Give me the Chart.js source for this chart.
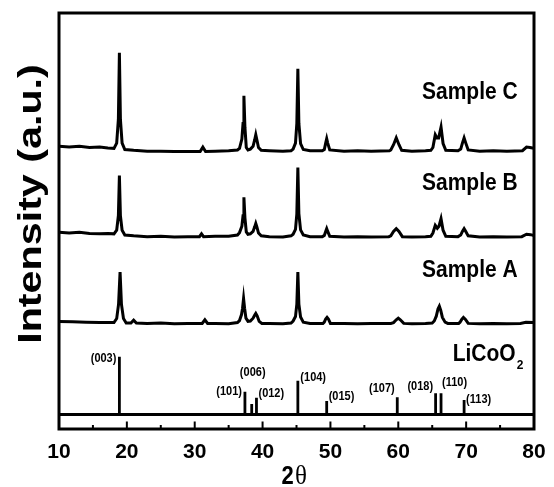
<!DOCTYPE html>
<html><head><meta charset="utf-8">
<script src="https://cdn.jsdelivr.net/npm/chart.js@4"></script>
<style>html,body{margin:0;padding:0;background:#fff;}canvas{display:block;}</style>
</head><body>
<canvas id="c" width="554" height="487"></canvas>
<script>
// ---------- data ----------
const xTickValues = [10, 20, 30, 40, 50, 60, 70, 80];
const xTitleMain = '2';
const xTitleSymbol = 'θ';
const yTitle = 'Intensity (a.u.)';
const sampleNames = ['Sample A', 'Sample B', 'Sample C'];

const sampleA = [[10,23.2],[12,23.1],[14,23.0],[16,22.9],[18.1,22.9],[18.5,23.9],[18.78,27.5],[19.0,35.5],[19.2,27.5],[19.5,23.9],[19.9,22.8],[20.6,22.8],[21.0,23.5],[21.4,22.8],[23,22.7],[25,22.8],[27,22.6],[29,22.7],[31.1,22.7],[31.5,23.6],[31.9,22.7],[33,22.7],[35,22.6],[36.3,22.9],[36.6,23.4],[36.9,24.9],[37.05,26.5],[37.2,28.9],[37.35,26.5],[37.55,24.0],[37.85,23.2],[38.2,23.3],[38.6,24.0],[38.85,24.8],[39.0,25.2],[39.2,24.6],[39.5,23.2],[39.9,22.7],[41,22.7],[43,22.6],[44.2,22.8],[44.5,23.3],[44.85,24.4],[45.05,27.5],[45.2,35.5],[45.35,27.5],[45.6,24.3],[46.0,23.0],[47,22.7],[48.9,22.7],[49.1,23.0],[49.3,23.8],[49.5,24.2],[49.7,23.8],[50.0,22.7],[52,22.7],[54,22.6],[56,22.7],[58.9,22.7],[59.3,22.9],[59.7,23.6],[60.0,24.0],[60.3,23.6],[60.8,22.7],[62,22.6],[64,22.7],[65.0,22.8],[65.3,23.3],[65.6,24.5],[65.85,26.3],[66.05,27.0],[66.25,26.0],[66.5,24.2],[66.9,23.0],[67.3,22.7],[68.9,22.7],[69.1,23.0],[69.35,23.7],[69.6,24.2],[69.9,23.7],[70.3,22.7],[72,22.6],[74,22.7],[76,22.6],[78,22.7],[78.8,23.0],[80,22.9]];

const sampleB = [[10,45.4],[11.5,45.2],[13,45.4],[14.5,45.1],[16,45.0],[17.2,45.1],[18.1,45.0],[18.5,45.9],[18.75,49.5],[18.9,59.5],[19.05,49.5],[19.3,45.9],[19.7,44.7],[21,44.5],[23,44.3],[25,44.4],[27,44.2],[29,44.3],[30.7,44.3],[31.0,45.0],[31.3,44.3],[33,44.4],[35,44.4],[36.3,44.7],[36.6,45.3],[36.95,46.9],[37.12,49.5],[37.25,54.1],[37.4,49.0],[37.6,45.5],[37.85,44.9],[38.2,45.0],[38.6,45.6],[38.85,46.8],[39.0,47.6],[39.15,46.8],[39.4,45.2],[39.8,44.5],[41,44.3],[43,44.2],[44.2,44.5],[44.5,44.9],[44.85,46.1],[45.05,50.0],[45.2,61.5],[45.35,50.0],[45.6,46.0],[46.0,44.7],[47,44.3],[48.8,44.3],[49.1,44.6],[49.3,45.6],[49.45,46.3],[49.6,45.6],[49.9,44.4],[52,44.2],[54,44.3],[56,44.2],[58.6,44.3],[58.9,44.5],[59.3,45.6],[59.7,46.3],[60.1,45.6],[60.6,44.3],[62,44.2],[64,44.3],[64.8,44.4],[65.1,45.2],[65.45,47.1],[65.75,46.4],[66.0,46.9],[66.3,48.8],[66.6,45.9],[67.0,44.4],[68.8,44.3],[69.2,44.7],[69.45,45.6],[69.7,46.3],[69.95,45.6],[70.3,44.5],[72,44.2],[74,44.3],[76,44.2],[78.2,44.3],[78.9,44.9],[79.5,44.8],[80,44.6]];

const sampleC = [[10,66.8],[11.5,66.6],[13,66.8],[14.5,66.5],[16,66.6],[17.2,66.4],[18.1,66.3],[18.5,67.6],[18.75,73.5],[18.9,90.1],[19.05,73.5],[19.3,67.6],[19.7,66.0],[21,65.8],[23,65.6],[25,65.6],[27,65.5],[29,65.5],[30.8,65.5],[31.2,66.6],[31.6,65.5],[33,65.6],[35,65.7],[36.3,65.9],[36.6,66.3],[36.95,68.6],[37.12,72.5],[37.25,79.4],[37.4,71.5],[37.6,66.5],[37.85,65.9],[38.2,66.1],[38.6,66.8],[38.85,68.5],[39.0,69.7],[39.15,68.5],[39.4,66.5],[39.8,65.8],[41,65.7],[43,65.6],[44.2,65.7],[44.5,66.1],[44.85,67.6],[45.05,72.5],[45.2,86.1],[45.35,72.5],[45.6,67.5],[46.0,66.0],[47,65.7],[48.8,65.7],[49.1,66.0],[49.3,67.6],[49.45,68.7],[49.6,67.6],[49.9,65.9],[52,65.6],[54,65.7],[56,65.6],[58.7,65.7],[58.9,65.9],[59.3,67.2],[59.7,68.9],[60.1,67.2],[60.5,65.8],[62,65.6],[64,65.7],[64.8,65.8],[65.1,66.5],[65.45,69.7],[65.7,68.9],[65.95,68.9],[66.3,71.6],[66.6,67.5],[67.0,65.8],[68.8,65.7],[69.2,66.1],[69.45,67.6],[69.7,68.9],[69.95,67.6],[70.3,65.9],[72,65.6],[74,65.7],[76,65.6],[78.3,65.7],[78.9,66.6],[79.4,66.5],[80,66.3]];

const refName = 'LiCoO';
const refNameSub = '2';
const refPositions   = [18.9, 37.4, 38.4, 39.1, 45.2, 49.45, 59.85, 65.5, 66.3, 69.7];
const refIntensities = [14.4, 5.7, 2.6, 4.2, 8.4, 3.4, 4.3, 5.3, 5.3, 3.6];
const refLabels = ['(003)','(101)','(006)','(012)','(104)','(015)','(107)','(018)','(110)','(113)'];

// ---------- layout / style (not data) ----------
const SY = 1.13; // vertical text stretch of the original figure
const labelPlacement = [ // align, dx(px), dy(px) relative to stick top
  ['right',-3,1.5],['right',-3,0],['center',1,-31.5],['left',2,-3.7],['left',2.5,-3.2],
  ['left',2,-4.7],['right',-2.5,-8.3],['right',-2.5,-7],['left',1,-10.3],['left',2,-1]
];
const sampleLabelAt = { x: 77.6, y: [34.25, 55.9, 78.6] };
const refLabelAt = { x: 77.3, y: 13.4 };

const toXY = arr => arr.map(p => ({ x: p[0], y: p[1] }));
const stickData = [];
refPositions.forEach((p, i) => {
  stickData.push({ x: p, y: 0 }, { x: p, y: refIntensities[i] }, { x: p, y: null });
});

function stretchText(ctx, text, x, y, font, align, baseline) {
  ctx.save();
  ctx.translate(x, y);
  ctx.scale(1, SY);
  ctx.font = font;
  ctx.textAlign = align;
  ctx.textBaseline = baseline;
  ctx.fillText(text, 0, 0);
  ctx.restore();
}

const decor = {
  id: 'decor',
  afterDatasetsDraw(chart) {
    const { ctx, chartArea: a, scales } = chart;
    const xs = scales.x, ys = scales.y;
    ctx.save();
    ctx.strokeStyle = '#000';
    ctx.fillStyle = '#000';
    // frame
    ctx.lineWidth = 3;
    ctx.strokeRect(a.left, a.top, a.right - a.left, a.bottom - a.top);
    // inward ticks
    ctx.lineWidth = 2;
    xTickValues.forEach((t, i) => {
      const px = xs.getPixelForValue(t);
      ctx.beginPath(); ctx.moveTo(px, a.bottom); ctx.lineTo(px, a.bottom - 7.5); ctx.stroke();
      if (i < xTickValues.length - 1) {
        const mx = xs.getPixelForValue((t + xTickValues[i + 1]) / 2);
        ctx.beginPath(); ctx.moveTo(mx, a.bottom); ctx.lineTo(mx, a.bottom - 4); ctx.stroke();
      }
    });
    // hkl labels
    refLabels.forEach((lab, i) => {
      const px = xs.getPixelForValue(refPositions[i]);
      const py = ys.getPixelForValue(refIntensities[i]);
      const pl = labelPlacement[i];
      stretchText(ctx, lab, px + pl[1], py + pl[2], 'bold 11px "Liberation Sans", Arial, sans-serif', pl[0], 'middle');
    });
    // sample labels
    sampleNames.forEach((n, i) => {
      stretchText(ctx, n, xs.getPixelForValue(sampleLabelAt.x), ys.getPixelForValue(sampleLabelAt.y[i]),
        'bold 21px "Liberation Sans", Arial, sans-serif', 'right', 'alphabetic');
    });
    // LiCoO2
    const rx = xs.getPixelForValue(refLabelAt.x), ry = ys.getPixelForValue(refLabelAt.y);
    stretchText(ctx, refName, rx, ry, 'bold 21px "Liberation Sans", Arial, sans-serif', 'right', 'alphabetic');
    stretchText(ctx, refNameSub, rx + 1, ry + 8.5, 'bold 12px "Liberation Sans", Arial, sans-serif', 'left', 'alphabetic');
    // x title
    const cx = (a.left + a.right) / 2;
    stretchText(ctx, xTitleMain, cx - 15, 484, 'bold 22px "Liberation Sans", Arial, sans-serif', 'left', 'alphabetic');
    stretchText(ctx, xTitleSymbol, cx - 1.5, 484, '25px "Liberation Serif", "Times New Roman", serif', 'left', 'alphabetic');
    // y title
    ctx.save();
    ctx.translate(41, 204);
    ctx.rotate(-Math.PI / 2);
    ctx.scale(1.25, 1);
    ctx.font = 'bold 33px "Liberation Sans", Arial, sans-serif';
    ctx.textAlign = 'center';
    ctx.textBaseline = 'alphabetic';
    ctx.fillText(yTitle, 0, 0);
    ctx.restore();
    ctx.restore();
  }
};

const lineStyle = { borderColor: '#000', borderWidth: 3, pointRadius: 0, tension: 0, fill: false };

new Chart(document.getElementById('c'), {
  type: 'line',
  data: {
    datasets: [
      Object.assign({ label: sampleNames[0], data: toXY(sampleA) }, lineStyle),
      Object.assign({ label: sampleNames[1], data: toXY(sampleB) }, lineStyle),
      Object.assign({ label: sampleNames[2], data: toXY(sampleC) }, lineStyle),
      { label: refName + refNameSub, data: stickData, borderColor: '#000', borderWidth: 2.8, pointRadius: 0, spanGaps: false, borderCapStyle: 'butt' },
      { label: 'base', data: [{ x: xTickValues[0], y: 0 }, { x: xTickValues[xTickValues.length - 1], y: 0 }], borderColor: '#000', borderWidth: 3, pointRadius: 0 }
    ]
  },
  options: {
    responsive: false,
    animation: false,
    devicePixelRatio: 1,
    layout: { padding: { top: 13, right: 20, left: 0, bottom: 0 } },
    plugins: { legend: { display: false }, tooltip: { enabled: false } },
    scales: {
      x: {
        type: 'linear', min: xTickValues[0], max: xTickValues[xTickValues.length - 1],
        afterBuildTicks: s => { s.ticks = xTickValues.map(v => ({ value: v })); },
        ticks: { padding: 11, color: '#000', maxRotation: 0, font: { family: '"Liberation Sans", Arial, sans-serif', size: 21, weight: 'bold' } },
        grid: { display: false, drawTicks: false },
        border: { display: false },
        afterFit: s => { s.height = 58; s.paddingLeft = 0; s.paddingRight = 0; }
      },
      y: {
        min: -3.6, max: 100,
        ticks: { display: false },
        grid: { display: false, drawTicks: false },
        border: { display: false },
        afterFit: s => { s.width = 59; s.paddingTop = 0; s.paddingBottom = 0; }
      }
    }
  },
  plugins: [decor]
});
</script>
</body></html>
